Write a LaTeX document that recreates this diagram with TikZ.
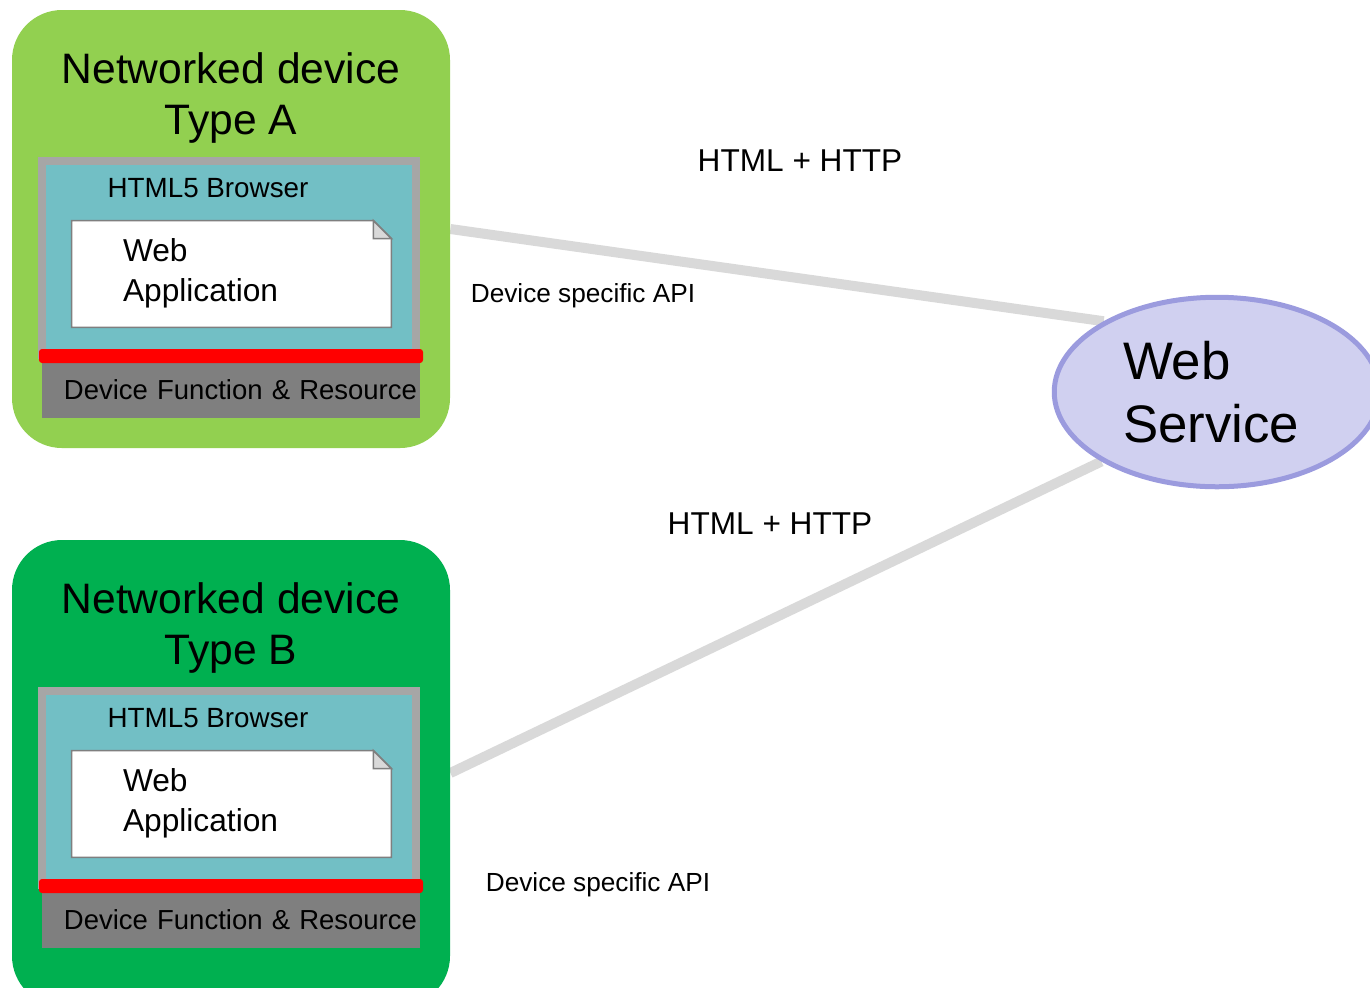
\documentclass[tikz,border=0pt]{standalone}
\usepackage{fontspec}
\setmainfont{Liberation Sans}
\usetikzlibrary{shapes.geometric,backgrounds}
\definecolor{greenA}{HTML}{92D050}
\definecolor{greenB}{HTML}{00B050}
\definecolor{browserteal}{HTML}{72BFC5}
\definecolor{framegray}{HTML}{A6A6A6}
\definecolor{resgray}{HTML}{7F7F7F}
\definecolor{linkgray}{HTML}{D9D9D9}
\definecolor{wsfill}{HTML}{D0D0F0}
\definecolor{wsline}{HTML}{9B9BDE}

\begin{document}
\begin{tikzpicture}[x=0.5pt, y=-0.5pt,
    device/.style = {rounded corners=25pt, minimum width=219pt, inner sep=0pt},
    title/.style = {align=center, font=\fontsize{21.3}{25.5}\selectfont},
    browser/.style = {fill=browserteal, draw=framegray, line width=4pt, minimum width=187pt, minimum height=97pt, inner sep=0pt},
    browsertext/.style = {font=\fontsize{13.9}{16}\selectfont},
    docbox/.style = {minimum width=159.5pt, minimum height=53pt, inner sep=0pt},
    docline/.style = {fill=white, draw=resgray, line width=0.75pt},
    apptext/.style = {anchor=west, inner sep=0pt, align=left, font=\fontsize{15.85}{20}\selectfont},
    resource/.style = {fill=resgray, minimum width=189pt, minimum height=27.5pt, inner xsep=1.5pt, text width=186pt, align=right, font=\fontsize{13.75}{16}\selectfont},
    api/.style = {fill=red, rounded corners=1.5pt, minimum width=192pt, minimum height=7pt, inner sep=0pt},
    service/.style = {ellipse, fill=wsfill, draw=wsline, line width=2.5pt, minimum width=162.75pt, minimum height=94.75pt, inner sep=0pt, text width=94pt, align=left, font=\fontsize{26.4}{31.5}\selectfont},
    link/.style = {draw=linkgray, line width=5pt},
    proto/.style = {font=\fontsize{15.8}{18}\selectfont},
    apilabel/.style = {font=\fontsize{13.1}{15}\selectfont}]
    \useasboundingbox (0,0) rectangle (1370,987);
    \clip (0,0) rectangle (1370,987);

    % device type A
    \node[device, fill=greenA, minimum height=219pt] (devA) at (231,229) {};
    \node[title] (titleA) at (231,98) {Networked device\\Type A};
    \node[browser] (browserA) at (229,258) {};
    \node[browsertext] (browserTxtA) at (208,188) {HTML5 Browser};
    \node[docbox] (appA) at (231.5,274) {};
    \draw[docline] (appA.south west) -- (appA.north west) -- ([xshift=-9pt]appA.north east) -- ([yshift=-9pt]appA.north east) -- (appA.south east) -- cycle;
    \draw[docline, fill=linkgray] ([xshift=-9pt]appA.north east) -- ([xshift=-9pt, yshift=-9pt]appA.north east) -- ([yshift=-9pt]appA.north east) -- cycle;
    \node[apptext] (appTxtA) at ([xshift=25.5pt, yshift=0.5pt]appA.west) {Web\\Application};
    \node[resource] (resA) at (231,390) {Device Function \& Resource};
    \node[api] (apiA) at (231,356) {};

    % device type B
    \node[device, fill=greenB, minimum height=233pt] (devB) at (231,773) {};
    \node[title] (titleB) at (231,628) {Networked device\\Type B};
    \node[browser] (browserB) at (229,788) {};
    \node[browsertext] (browserTxtB) at (208,718) {HTML5 Browser};
    \node[docbox] (appB) at (231.5,804) {};
    \draw[docline] (appB.south west) -- (appB.north west) -- ([xshift=-9pt]appB.north east) -- ([yshift=-9pt]appB.north east) -- (appB.south east) -- cycle;
    \draw[docline, fill=linkgray] ([xshift=-9pt]appB.north east) -- ([xshift=-9pt, yshift=-9pt]appB.north east) -- ([yshift=-9pt]appB.north east) -- cycle;
    \node[apptext] (appTxtB) at ([xshift=25.5pt, yshift=0.5pt]appB.west) {Web\\Application};
    \node[resource] (resB) at (231,920) {Device Function \& Resource};
    \node[api] (apiB) at (231,886) {};

    \node[service] (ws) at (1217,392) {Web\\Service};

    \begin{scope}[on background layer]
        \draw[link] (devA.east) -- (ws.148);
        \draw[link] (devB.east) -- (ws.211);
    \end{scope}

    \node[proto] (httpA) at (800,161) {HTML + HTTP};
    \node[apilabel] (apiTxtA) at (583,296) {Device specific API};
    \node[proto] (httpB) at (770,524) {HTML + HTTP};
    \node[apilabel] (apiTxtB) at (598,885) {Device specific API};
\end{tikzpicture}
\end{document}
